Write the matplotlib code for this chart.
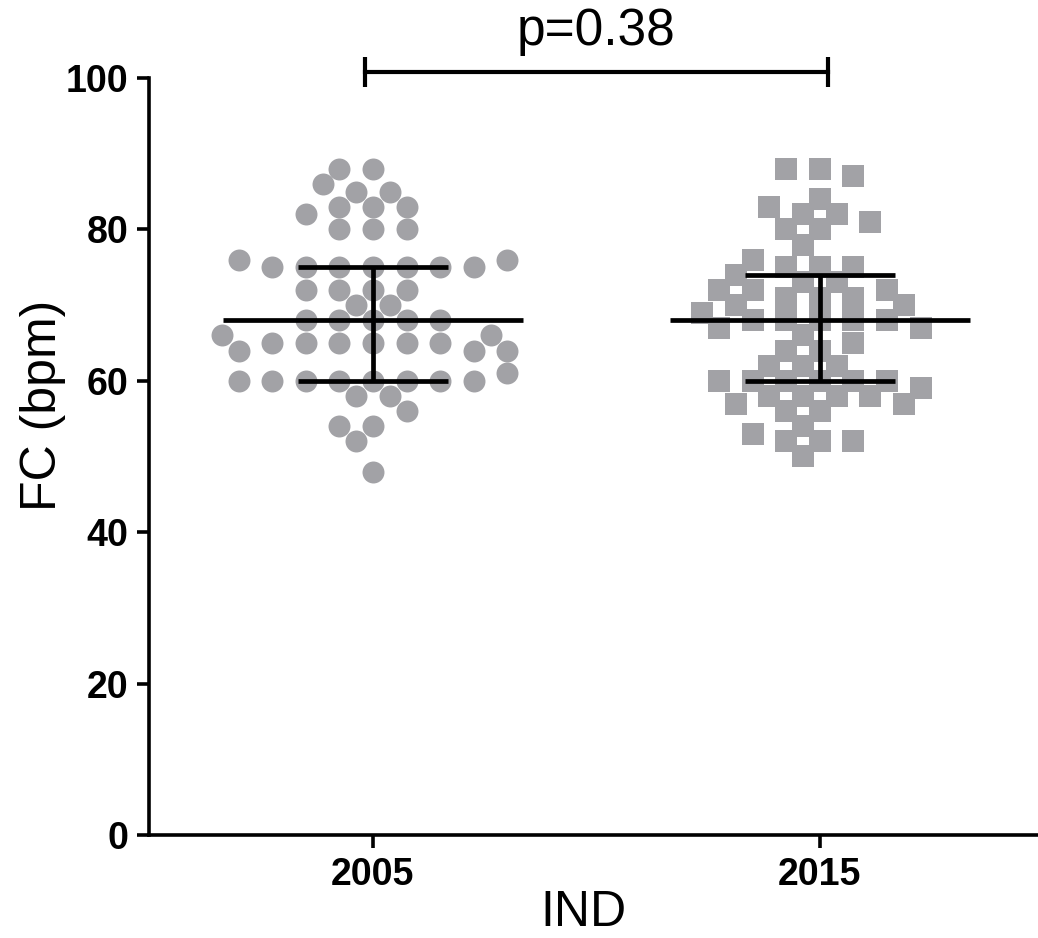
import numpy as np
import matplotlib
matplotlib.use("Agg")
import matplotlib.pyplot as plt

plt.rcParams['font.family'] = ['Liberation Sans', 'DejaVu Sans']

# data (bpm)
groups = ['2005', '2015']
fc_2005 = [88, 88, 86, 85, 85, 83, 83, 83, 82, 80, 80, 80, 76, 76,
           75, 75, 75, 75, 75, 75, 75, 72, 72, 72, 72, 70, 70,
           68, 68, 68, 68, 68, 66, 66, 65, 65, 65, 65, 65, 65,
           64, 64, 64, 61, 60, 60, 60, 60, 60, 60, 60, 60,
           58, 58, 56, 54, 54, 52, 48]
fc_2015 = [88, 88, 87, 84, 83, 82, 82, 81, 80, 80, 78, 76, 75, 75, 75, 74,
           73, 73, 72, 72, 72, 71, 71, 71, 70, 70, 69,
           68, 68, 68, 68, 68, 67, 67, 66, 65, 64, 64, 62, 62, 62,
           60, 60, 60, 60, 60, 60, 59, 58, 58, 58, 58, 57, 57,
           56, 56, 54, 53, 52, 52, 52, 50]
# median and interquartile bars as drawn
medians = [68, 68]
q_high = [75, 74]
q_low = [60, 60]
p_text = 'p=0.38'

gray = '#a2a2a6'

fig = plt.figure(figsize=(10.38, 9.38), dpi=100)
ax = fig.add_axes([149 / 1038, 103 / 938, 889 / 1038, 757 / 938])
ax.set_xlim(-0.501, 1.488)
ax.set_ylim(0, 100)

# pixel scales of the axes, used to lay out the swarm
px_x = 889 / (1.488 + 0.501)
px_y = 757 / 100


def swarm(values, step_px=16.8, dmin=22.0):
    vals = np.asarray(values)
    uniq, counts = np.unique(vals, return_counts=True)
    med = np.median(vals)
    order = sorted(range(len(uniq)), key=lambda i: (-counts[i], abs(uniq[i] - med)))
    placed = []
    slots = {}
    for i in order:
        v, n = uniq[i], counts[i]
        y = v * px_y
        par = (n - 1) % 2
        cands = sorted(range(-30, 31),
                       key=lambda k: (abs(k) + (0 if abs(k) % 2 == par else 0.5), k))
        chosen = []
        for k in cands:
            if len(chosen) == n:
                break
            if any(abs(k - c) < 2 for c in chosen):
                continue
            if any(((k - pk) * step_px) ** 2 + (y - py) ** 2 < dmin ** 2 for pk, py in placed):
                continue
            chosen.append(k)
        placed += [(k, y) for k in chosen]
        slots[v] = sorted(chosen)
    offs = []
    for v in vals:
        offs.append(slots[v].pop(0) * step_px / px_x)
    return np.array(offs)


for i, (vals, mk) in enumerate([(fc_2005, 'o'), (fc_2015, 's')]):
    xo = swarm(vals)
    ax.scatter(i + xo, vals, s=250, marker=mk, color=gray, linewidths=0, zorder=2)
    # median line, quartile caps and vertical bar
    ax.hlines(medians[i], i - 0.336, i + 0.336, color='black', lw=3.4, zorder=3)
    ax.hlines([q_high[i], q_low[i]], i - 0.168, i + 0.168, color='black', lw=3.4, zorder=3)
    ax.vlines(i, q_low[i], q_high[i], color='black', lw=3.4, zorder=3)

# significance bracket
ax.plot([-0.018, 1.018], [100.8, 100.8], color='black', lw=3, clip_on=False)
ax.vlines([-0.018, 1.018], 98.8, 102.8, color='black', lw=3, clip_on=False)
ax.text(0.5, 104.4, p_text, ha='center', va='baseline', fontsize=37, clip_on=False)

ax.spines['top'].set_visible(False)
ax.spines['right'].set_visible(False)
ax.spines['left'].set_linewidth(2.6)
ax.spines['bottom'].set_linewidth(2.6)

ax.set_xticks([0, 1])
ax.set_xticklabels(groups, fontsize=27, fontweight='bold')
ax.set_yticks(range(0, 101, 20))
ax.set_yticklabels([str(t) for t in range(0, 101, 20)], fontsize=27, fontweight='bold')
ax.tick_params(axis='both', length=9, width=2.6, direction='out')
ax.tick_params(axis='x', pad=7)
ax.tick_params(axis='y', pad=6)

ax.set_xlabel('IND', fontsize=36, labelpad=0)
ax.set_ylabel('FC (bpm)', fontsize=36, labelpad=4)
ax.xaxis.set_label_coords(0.489, -0.072)
ax.yaxis.set_label_coords(-0.093, 0.568)

fig.savefig('out.png', dpi=100)
